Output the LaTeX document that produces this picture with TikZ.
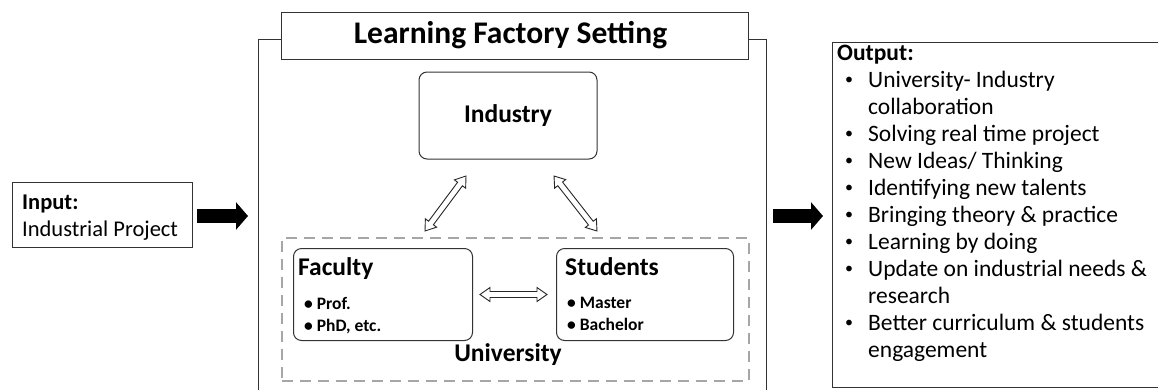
\documentclass[tikz,border=0pt]{standalone}
\usepackage{fontspec}
\setmainfont{Carlito}
\usetikzlibrary{calc,arrows.meta}

% hollow double-headed block arrow between two named points
\newcommand\hollowarrow[2]{%
  \draw[hollow] (#1)
    -- ($(#1)!10pt!(#2)!7pt!90:(#2)$)
    -- ($(#1)!10pt!(#2)!3pt!90:(#2)$)
    -- ($(#2)!10pt!(#1)!3pt!-90:(#1)$)
    -- ($(#2)!10pt!(#1)!7pt!-90:(#1)$)
    -- (#2)
    -- ($(#2)!10pt!(#1)!7pt!90:(#1)$)
    -- ($(#2)!10pt!(#1)!3pt!90:(#1)$)
    -- ($(#1)!10pt!(#2)!3pt!-90:(#2)$)
    -- ($(#1)!10pt!(#2)!7pt!-90:(#2)$)
    -- cycle;}
\newcommand\outbul{\makebox[31pt][l]{\hspace{8pt}\raisebox{3pt}{\fontsize{16}{16}\selectfont •}}}
\newcommand\outind{\makebox[31pt]{}}

\begin{document}
\begin{tikzpicture}[x=1pt,y=-1pt,
  box/.style={draw=black!80, line width=1pt, inner sep=0pt},
  rbox/.style={box, rounded corners=8pt},
  ubox/.style={draw=black!35, line width=2pt, dash pattern=on 11pt off 7pt, inner sep=0pt},
  frame/.style={draw=black!80, line width=1pt},
  bigtext/.style={font=\fontsize{22.5}{27}\selectfont, inner sep=0pt, align=left},
  outtextstyle/.style={font=\fontsize{23.5}{27}\selectfont, inner sep=0pt, align=left},
  headtext/.style={font=\bfseries\fontsize{25.5}{30}\selectfont, inner sep=0pt},
  titletext/.style={font=\bfseries\fontsize{31.5}{36}\selectfont, inner sep=0pt},
  itemtext/.style={font=\bfseries\fontsize{17.5}{22}\selectfont, inner sep=0pt, align=left},
  hollow/.style={draw=black!85, line width=0.9pt, fill=white, line join=miter},
  blockarrow/.style={line width=14pt, -{Triangle[length=12pt,width=27pt]}}]

\useasboundingbox (0,0) rectangle (1158,389);
\fill[white] (0,0) rectangle (1158,389);

% outer frame of the learning factory
\draw[frame] (258,395) -- (258,39) -- (766,39) -- (766,395);
\node[box, fill=white, minimum width=467pt, minimum height=47pt] (title) at (514.5,35.5) {};
\node[titletext] (titletxt) at ($(title.center)+(-4,0)$) {Learning Factory Setting};

% input
\node[box, anchor=north west, minimum width=180pt, minimum height=65pt] (inp) at (12,182) {};
\node[bigtext, anchor=north west] (inptext) at (22,195) {\textbf{Input:}\\Industrial Project};

% industry
\node[rbox, minimum width=178pt, minimum height=87pt, headtext] (ind) at (508,115.5) {Industry};

% university
\node[ubox, anchor=north west, minimum width=467pt, minimum height=143pt] (uni) at (281,237) {};
\node[headtext] (unilabel) at (508,355) {University};

\node[rbox, anchor=north west, minimum width=179pt, minimum height=92pt] (fac) at (293,248) {};
\node[headtext, anchor=north west] (factitle) at ($(fac.north west)+(5,9)$) {Faculty};
\node[itemtext, anchor=north west] (facitems) at ($(fac.north west)+(11,49)$) {• Prof.\\• PhD, etc.};

\node[rbox, anchor=north west, minimum width=177pt, minimum height=92pt] (stu) at (556,248) {};
\node[headtext, anchor=north west] (stutitle) at ($(stu.north west)+(9,9)$) {Students};
\node[itemtext, anchor=north west] (stuitems) at ($(stu.north west)+(11,49)$) {• Master\\• Bachelor};

% links
\coordinate (la1) at (425,231);
\coordinate (la2) at (466,176);
\coordinate (ra1) at (554,176);
\coordinate (ra2) at (597,231);
\coordinate (ha1) at ($(fac.east)+(7,0)$);
\coordinate (ha2) at ($(stu.west)+(-9,0)$);
\hollowarrow{la1}{la2}
\hollowarrow{ra1}{ra2}
\hollowarrow{ha1}{ha2}

% output
\node[box, anchor=north west, minimum width=340pt, minimum height=345pt] (out) at (832,42) {};
\node[outtextstyle, anchor=north west] (outtext) at (837,45) {\textbf{Output:}\\
\outbul University- Industry\\
\outind collaboration\\
\outbul Solving real time project\\
\outbul New Ideas/ Thinking\\
\outbul Identifying new talents\\
\outbul Bringing theory \& practice\\
\outbul Learning by doing\\
\outbul Update on industrial needs \&\\
\outind research\\
\outbul Better curriculum \& students\\
\outind engagement};

% flow arrows
\coordinate (inarr) at (197,216);
\coordinate (inend) at (248,216);
\coordinate (outarr) at (773,216);
\coordinate (outend) at (823,216);
\draw[blockarrow] (inarr) -- (inend);
\draw[blockarrow] (outarr) -- (outend);
\end{tikzpicture}
\end{document}
